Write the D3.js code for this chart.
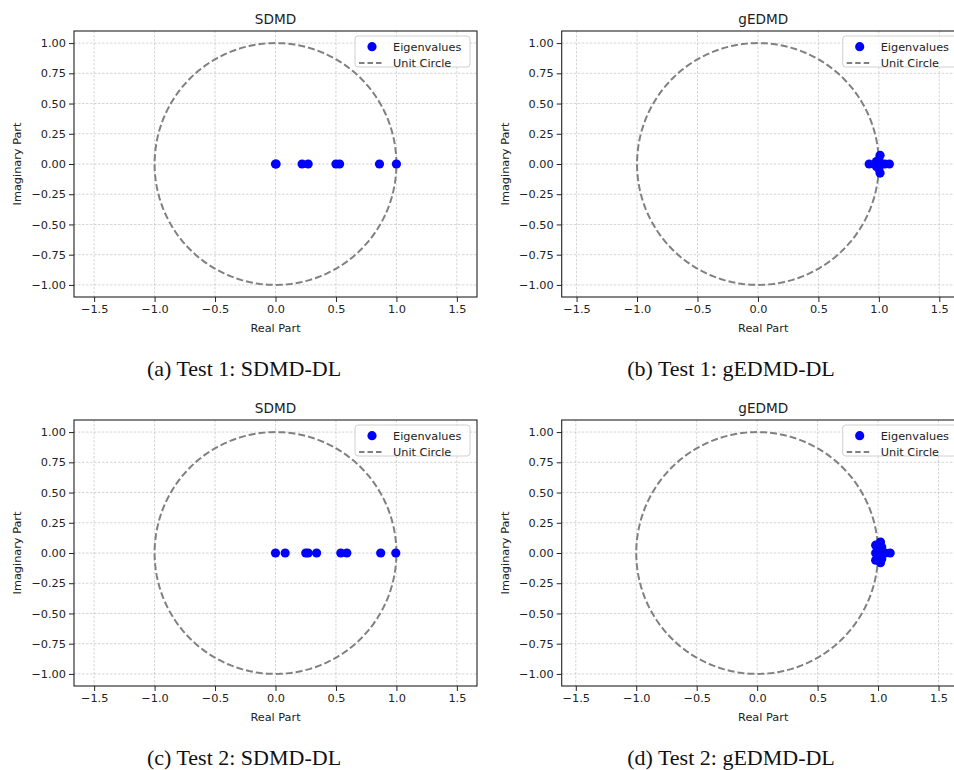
<!DOCTYPE html>
<html>
<head>
<meta charset="utf-8">
<script src="https://cdn.jsdelivr.net/npm/d3@7"></script>
<style>
  body { margin: 0; background: #fff; }
  svg { display: block; }
  .tick text { font-family: "DejaVu Sans", sans-serif; font-size: 11.3px; fill: #222; }
</style>
</head>
<body>
<svg id="fig" width="954" height="770"></svg>
<script>
// eigenvalues (real, imaginary)
const test1Sdmd = [[0.0, 0], [0.005, 0], [0.22, 0], [0.27, 0], [0.50, 0], [0.53, 0], [0.86, 0], [1.0, 0]];
const test1Gedmd = [[0.92, 0], [0.98, 0.02], [0.98, -0.02], [1.0, 0], [1.01, 0.072], [1.01, -0.075],
                    [1.0, 0.035], [1.0, -0.04], [1.05, 0], [1.087, 0]];
const test2Sdmd = [[0.0, 0], [0.08, 0], [0.25, 0], [0.27, 0], [0.34, 0], [0.54, 0], [0.59, 0], [0.87, 0], [0.995, 0]];
const test2Gedmd = [[0.98, 0.065], [0.98, 0], [0.98, -0.06], [1.0, 0.03], [1.0, -0.03], [1.02, 0.09],
                    [1.02, -0.08], [1.03, 0.05], [1.03, -0.05], [1.06, 0], [1.10, 0]];

const xTicks = [-1.5, -1.0, -0.5, 0.0, 0.5, 1.0, 1.5];
const yTicks = [-1.0, -0.75, -0.5, -0.25, 0.0, 0.25, 0.5, 0.75, 1.0];
const titles = ["SDMD", "gEDMD", "SDMD", "gEDMD"];
const captions = ["(a) Test 1: SDMD-DL", "(b) Test 1: gEDMD-DL", "(c) Test 2: SDMD-DL", "(d) Test 2: gEDMD-DL"];
const legendLabels = ["Eigenvalues", "Unit Circle"];

const svg = d3.select("#fig");
const axW = 403, axH = 266;
const halfX = 1.6665; // equal aspect: x half-range for y in [-1.1, 1.1]
const minus = s => s.replace("-", "\u2212");

// panel placement: left edge of axes, top of axes, caption centre
const panels = [
  { data: test1Sdmd,  left: 74,    top: 31,  capX: 244, capY: 376 },
  { data: test1Gedmd, left: 561.7, top: 31,  capX: 731, capY: 376 },
  { data: test2Sdmd,  left: 74,    top: 420, capX: 244, capY: 765 },
  { data: test2Gedmd, left: 561.7, top: 420, capX: 731, capY: 765 }
];

panels.forEach((p, i) => drawPanel(p, titles[i], captions[i]));

function drawPanel(p, title, caption) {
  const g = svg.append("g").attr("transform", `translate(${p.left},${p.top})`);
  // data limits (circle + points) centred like matplotlib's axis('equal')
  const ext = d3.extent(p.data.map(d => d[0]).concat([-1, 1]));
  const cx = (ext[0] + ext[1]) / 2;
  const x = d3.scaleLinear().domain([cx - halfX, cx + halfX]).range([0, axW]);
  const y = d3.scaleLinear().domain([-1.1, 1.1]).range([axH, 0]);

  // grid
  g.append("g").selectAll("line").data(xTicks).join("line")
    .attr("x1", d => x(d)).attr("x2", d => x(d)).attr("y1", 0).attr("y2", axH)
    .attr("stroke", "#b8b8b8").attr("stroke-width", 0.6).attr("stroke-dasharray", "2.5,1.5");
  g.append("g").selectAll("line").data(yTicks).join("line")
    .attr("y1", d => y(d)).attr("y2", d => y(d)).attr("x1", 0).attr("x2", axW)
    .attr("stroke", "#b8b8b8").attr("stroke-width", 0.6).attr("stroke-dasharray", "2.5,1.5");

  // unit circle
  const angles = d3.range(0, 201).map(k => k / 200 * 2 * Math.PI);
  g.append("path")
    .datum(angles)
    .attr("d", d3.line().x(a => x(Math.cos(a))).y(a => y(Math.sin(a))))
    .attr("fill", "none").attr("stroke", "#808080").attr("stroke-width", 2)
    .attr("stroke-dasharray", "7,3");

  // eigenvalues
  g.append("g").selectAll("circle").data(p.data).join("circle")
    .attr("cx", d => x(d[0])).attr("cy", d => y(d[1])).attr("r", 4.6)
    .attr("fill", "#0000ff");

  // frame
  g.append("rect").attr("width", axW).attr("height", axH)
    .attr("fill", "none").attr("stroke", "#222").attr("stroke-width", 1.1);

  // axes
  const xa = g.append("g").attr("transform", `translate(0,${axH})`)
    .call(d3.axisBottom(x).tickValues(xTicks).tickFormat(d => minus(d3.format(".1f")(d))).tickSize(5).tickPadding(3));
  const ya = g.append("g")
    .call(d3.axisLeft(y).tickValues(yTicks).tickFormat(d => minus(d3.format(".2f")(d))).tickSize(5).tickPadding(3));
  [xa, ya].forEach(a => {
    a.select(".domain").remove();
    a.selectAll(".tick line").attr("stroke", "#222").attr("stroke-width", 1);
  });

  const sans = "'DejaVu Sans', sans-serif";
  g.append("text").attr("x", axW / 2).attr("y", axH + 35)
    .attr("text-anchor", "middle").attr("font-family", sans).attr("font-size", 11.3).attr("fill", "#222")
    .text("Real Part");
  g.append("text").attr("transform", `translate(${-53},${axH / 2}) rotate(-90)`)
    .attr("text-anchor", "middle").attr("font-family", sans).attr("font-size", 11.3).attr("fill", "#222")
    .text("Imaginary Part");
  g.append("text").attr("x", axW / 2).attr("y", -7)
    .attr("text-anchor", "middle").attr("font-family", sans).attr("font-size", 13.6).attr("fill", "#222")
    .text(title);

  // legend
  const lg = g.append("g").attr("transform", `translate(${axW - 122},5)`);
  lg.append("rect").attr("width", 115).attr("height", 31).attr("rx", 3)
    .attr("fill", "#fff").attr("fill-opacity", 0.8).attr("stroke", "#d0d0d0").attr("stroke-width", 1);
  lg.append("circle").attr("cx", 17).attr("cy", 10.7).attr("r", 4.6).attr("fill", "#0000ff");
  lg.append("line").attr("x1", 4).attr("x2", 28).attr("y1", 27).attr("y2", 27)
    .attr("stroke", "#808080").attr("stroke-width", 2).attr("stroke-dasharray", "5.5,3");
  lg.selectAll("text.lab").data(legendLabels).join("text").attr("class", "lab")
    .attr("x", 38).attr("y", (d, k) => 14.7 + k * 16.4)
    .attr("font-family", sans).attr("font-size", 11.3).attr("fill", "#222")
    .text(d => d);

  // caption
  svg.append("text").attr("x", p.capX).attr("y", p.capY)
    .attr("text-anchor", "middle").attr("font-family", "'Liberation Serif', serif").attr("font-size", 22)
    .attr("fill", "#111").text(caption);
}
</script>
</body>
</html>
